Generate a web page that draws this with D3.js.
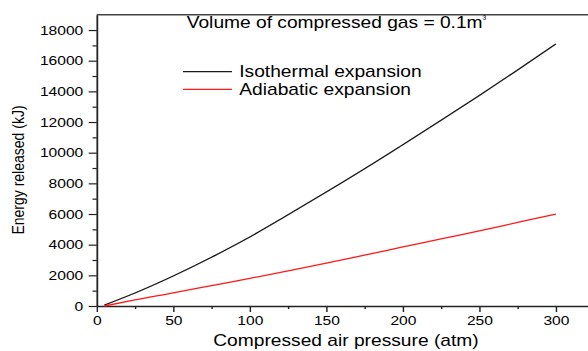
<!DOCTYPE html>
<html>
<head>
<meta charset="utf-8">
<script src="https://cdn.jsdelivr.net/npm/d3@7"></script>
<style>
  html, body { margin: 0; padding: 0; background: #fff; }
  svg { display: block; }
  text { font-family: "Liberation Sans", Arial, Helvetica, sans-serif; fill: #000; }
</style>
</head>
<body>
<div id="chart"></div>
<script>
const pressure = [5, 25, 50, 75, 100, 125, 150, 175, 200, 225, 250, 275, 300];
const isothermal = [60, 850, 1960, 3180, 4500, 5950, 7430, 8950, 10520, 12110, 13730, 15400, 17090];
const adiabatic = [0, 400, 860, 1330, 1800, 2290, 2790, 3320, 3850, 4380, 4900, 5450, 6000];

const xMajor = [0, 50, 100, 150, 200, 250, 300];
const xMinor = [25, 75, 125, 175, 225, 275];
const yMajor = [0, 2000, 4000, 6000, 8000, 10000, 12000, 14000, 16000, 18000];
const yMinor = [1000, 3000, 5000, 7000, 9000, 11000, 13000, 15000, 17000];

const seriesNames = ['Isothermal expansion', 'Adiabatic expansion'];
const seriesColors = ['#1a1a1a', '#ff1a1a'];

// the original image is stretched sideways, so draw in a narrower box and stretch it
const stretch = 1.2;
const outW = 588, outH = 351;
const W = outW / stretch, H = outH;

const svg = d3.select('#chart').append('svg')
  .attr('width', outW)
  .attr('height', outH)
  .attr('viewBox', `0 0 ${W} ${H}`)
  .attr('preserveAspectRatio', 'none');

const plotLeft = 80.6, plotRight = W, plotTop = 14.7, plotBottom = 306;

const x = d3.scaleLinear().domain([0, 321]).range([plotLeft, plotRight]);
const y = d3.scaleLinear().domain([0, 19000]).range([plotBottom, plotTop]);

// minor ticks first
svg.append('g')
  .attr('transform', `translate(0,${plotBottom})`)
  .call(d3.axisBottom(x).tickValues(xMinor).tickSize(3).tickFormat(''))
  .call(g => g.select('.domain').remove());

svg.append('g')
  .attr('transform', `translate(${plotLeft},0)`)
  .call(d3.axisLeft(y).tickValues(yMinor).tickSize(3.5).tickFormat(''))
  .call(g => g.select('.domain').remove());

const xAxis = svg.append('g')
  .attr('transform', `translate(0,${plotBottom})`)
  .call(d3.axisBottom(x).tickValues(xMajor).tickSize(6).tickPadding(3.5).tickSizeOuter(0));

const yAxis = svg.append('g')
  .attr('transform', `translate(${plotLeft},0)`)
  .call(d3.axisLeft(y).tickValues(yMajor).tickSize(6.7).tickPadding(4.5).tickSizeOuter(0).tickFormat(d3.format('d')));

svg.selectAll('.tick line').attr('stroke', '#222').attr('stroke-width', 1.2);
svg.selectAll('.domain').attr('stroke', '#222').attr('stroke-width', 1.5);
xAxis.selectAll('text').style('font-size', '13px').attr('fill', '#111');
yAxis.selectAll('text').style('font-size', '13px').attr('fill', '#111');

// top frame line
svg.append('line')
  .attr('x1', plotLeft).attr('x2', plotRight)
  .attr('y1', plotTop).attr('y2', plotTop)
  .attr('stroke', '#444').attr('stroke-width', 1.6);

const line = d3.line()
  .x((d, i) => x(pressure[i]))
  .y(d => y(d))
  .curve(d3.curveMonotoneX);

[isothermal, adiabatic].forEach((s, i) => {
  svg.append('path')
    .datum(s)
    .attr('fill', 'none')
    .attr('stroke', seriesColors[i])
    .attr('stroke-width', 1.3)
    .attr('d', line);
});

// title
svg.append('text')
  .attr('x', 155.6).attr('y', 28)
  .style('font-size', '16px')
  .text('Volume of compressed gas = 0.1m')
  .append('tspan')
  .attr('dy', -6)
  .style('font-size', '9px')
  .text('³');

// legend
const legendY = [71.7, 89.3];
seriesNames.forEach((name, i) => {
  svg.append('line')
    .attr('x1', 152.5).attr('x2', 193.3)
    .attr('y1', legendY[i]).attr('y2', legendY[i])
    .attr('stroke', seriesColors[i]).attr('stroke-width', 1.3);
  svg.append('text')
    .attr('x', 199.4).attr('y', legendY[i] + 5.4)
    .style('font-size', '16px')
    .text(name);
});

// axis titles
svg.append('text')
  .attr('x', (x(0) + x(321)) / 2 + 3).attr('y', 346.5)
  .attr('text-anchor', 'middle')
  .style('font-size', '16px')
  .text('Compressed air pressure (atm)');

svg.append('text')
  .attr('transform', `translate(20,170) rotate(-90)`)
  .attr('text-anchor', 'middle')
  .style('font-size', '14px')
  .text('Energy released (kJ)');
</script>
</body>
</html>
